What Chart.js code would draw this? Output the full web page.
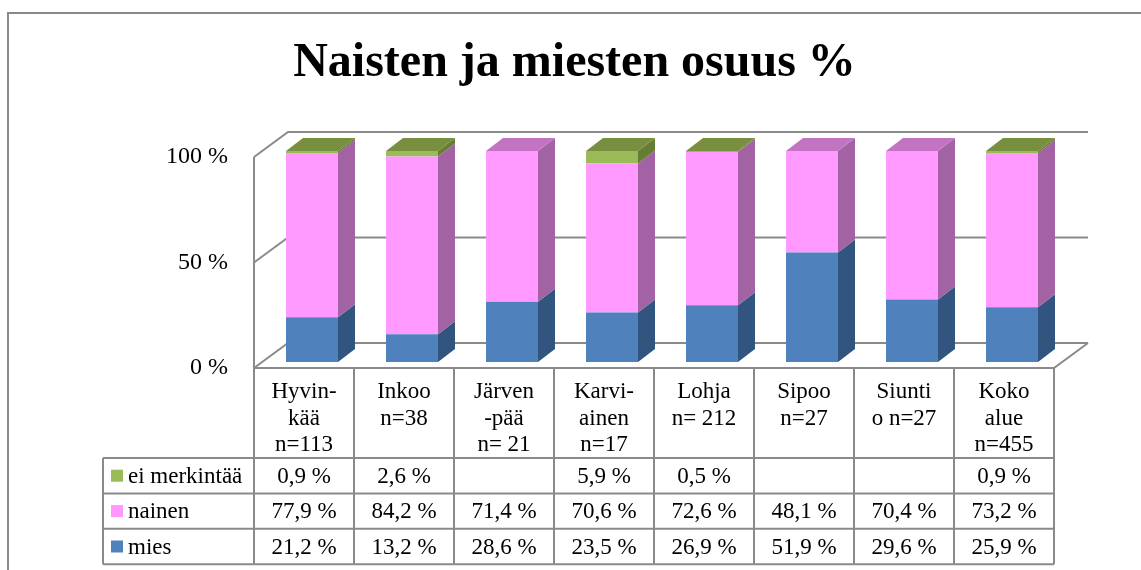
<!DOCTYPE html>
<html>
<head>
<meta charset="utf-8">
<title>Naisten ja miesten osuus %</title>
<script src="https://cdn.jsdelivr.net/npm/chart.js"></script>
<style>
  html, body { margin: 0; padding: 0; background: #fff; }
  #chart { display: block; }
</style>
</head>
<body>
<canvas id="chart" width="1141" height="570"></canvas>
<script>
// Data
const categories = [
  ["Hyvin-", "kää", "n=113"],
  ["Inkoo", "n=38"],
  ["Järven", "-pää", "n= 21"],
  ["Karvi-", "ainen", "n=17"],
  ["Lohja", "n= 212"],
  ["Sipoo", "n=27"],
  ["Siunti", "o n=27"],
  ["Koko", "alue", "n=455"]
];
const mies = [21.2, 13.2, 28.6, 23.5, 26.9, 51.9, 29.6, 25.9];
const nainen = [77.9, 84.2, 71.4, 70.6, 72.6, 48.1, 70.4, 73.2];
const eiMerkintaa = [0.9, 2.6, null, 5.9, 0.5, null, null, 0.9];
const yTicks = [0, 50, 100];

const FONT = "'Liberation Serif', 'Times New Roman', serif";
const LINE = "#8a8a8a";

// colours per dataset: front, side, top
const faces = [
  { front: "#4f81bd", side: "#31557f", top: "#3d6699" },
  { front: "#ff99ff", side: "#a262a3", top: "#c274c2" },
  { front: "#9bbb59", side: "#667d33", top: "#778f3f" }
];

// 3D geometry (pixels): bar depth and frame depth
const barDepth = { dx: 17, dy: 13 };
const frontShift = { dx: -8, dy: 6 };
const backShift = { dx: 26, dy: -19 };

function poly(ctx, pts, fill) {
  ctx.beginPath();
  ctx.moveTo(pts[0][0], pts[0][1]);
  for (let k = 1; k < pts.length; k++) ctx.lineTo(pts[k][0], pts[k][1]);
  ctx.closePath();
  ctx.fillStyle = fill;
  ctx.fill();
}

function fmt(v) {
  return v.toFixed(1).replace(".", ",") + " %";
}

// Walls, floor and gridlines
const framePlugin = {
  id: "frame3d",
  beforeDatasetsDraw(chart) {
    const { ctx, chartArea, scales } = chart;
    const y = scales.y;
    const fl = chartArea.left + frontShift.dx;
    const fr = chartArea.right + frontShift.dx;
    const bl = chartArea.left + backShift.dx;
    const br = chartArea.right + backShift.dx;
    ctx.save();
    ctx.strokeStyle = LINE;
    ctx.lineWidth = 2;
    ctx.beginPath();
    yTicks.forEach((v) => {
      const p = y.getPixelForValue(v);
      ctx.moveTo(fl, p + frontShift.dy);
      ctx.lineTo(bl, p + backShift.dy);
      ctx.lineTo(br, p + backShift.dy);
    });
    const top = y.getPixelForValue(100);
    const zero = y.getPixelForValue(0);
    ctx.moveTo(fl, top + frontShift.dy);
    ctx.lineTo(fl, zero + frontShift.dy);
    ctx.lineTo(fr, zero + frontShift.dy);
    ctx.lineTo(br, zero + backShift.dy);
    ctx.stroke();
    ctx.restore();
  },
  afterDatasetsDraw(chart) {
    const ctx = chart.ctx;
    const { dx, dy } = barDepth;
    ctx.save();
    for (let i = 0; i < categories.length; i++) {
      let topIdx = -1;
      chart.data.datasets.forEach((ds, d) => {
        const v = ds.data[i];
        if (!v) return;
        topIdx = d;
        const el = chart.getDatasetMeta(d).data[i];
        const r = el.x + el.width / 2;
        const t = Math.min(el.y, el.base);
        const b = Math.max(el.y, el.base);
        poly(ctx, [[r, b], [r, t], [r + dx, t - dy], [r + dx, b - dy]], faces[d].side);
      });
      if (topIdx >= 0) {
        const el = chart.getDatasetMeta(topIdx).data[i];
        const l = el.x - el.width / 2;
        const r = el.x + el.width / 2;
        const t = Math.min(el.y, el.base);
        poly(ctx, [[l, t], [l + dx, t - dy], [r + dx, t - dy], [r, t]], faces[topIdx].top);
      }
    }
    ctx.restore();
  }
};

// Data table below the plot + outer border
const tablePlugin = {
  id: "dataTable",
  afterDraw(chart) {
    const { ctx, chartArea, scales } = chart;
    const x = scales.x;
    const n = categories.length;
    const colW = (chartArea.right - chartArea.left) / n;
    const tableTop = scales.y.getPixelForValue(0) + frontShift.dy;
    const headH = 90;
    const rowH = 35.4;
    const legendLeft = 103;
    const colLeft = chartArea.left + frontShift.dx;
    const colRight = chartArea.right + frontShift.dx;
    const rows = [
      { label: "ei merkintää", data: eiMerkintaa, color: faces[2].front },
      { label: "nainen", data: nainen, color: faces[1].front },
      { label: "mies", data: mies, color: faces[0].front }
    ];
    const bodyTop = tableTop + headH;
    const bottom = bodyTop + rows.length * rowH;

    ctx.save();
    ctx.strokeStyle = LINE;
    ctx.lineWidth = 2;
    ctx.beginPath();
    for (let i = 0; i <= n; i++) {
      const cx = colLeft + i * colW;
      ctx.moveTo(cx, tableTop);
      ctx.lineTo(cx, bottom);
    }
    ctx.moveTo(legendLeft, bodyTop);
    ctx.lineTo(legendLeft, bottom);
    for (let r = 0; r <= rows.length; r++) {
      const ry = bodyTop + r * rowH;
      ctx.moveTo(legendLeft, ry);
      ctx.lineTo(colRight, ry);
    }
    ctx.stroke();

    ctx.fillStyle = "#000";
    ctx.font = "23px " + FONT;
    ctx.textAlign = "center";
    ctx.textBaseline = "middle";
    categories.forEach((lines, i) => {
      const cx = x.getPixelForValue(i) + frontShift.dx;
      lines.forEach((ln, k) => {
        ctx.fillText(ln, cx, tableTop + 24 + k * 26.5);
      });
    });

    rows.forEach((row, r) => {
      const cy = bodyTop + r * rowH + rowH / 2;
      ctx.fillStyle = row.color;
      ctx.fillRect(111, cy - 6, 12, 12);
      ctx.fillStyle = "#000";
      ctx.textAlign = "left";
      ctx.fillText(row.label, 128, cy + 1);
      ctx.textAlign = "center";
      row.data.forEach((v, i) => {
        if (v == null) return;
        const cx = x.getPixelForValue(i) + frontShift.dx;
        ctx.fillText(fmt(v), cx, cy + 1);
      });
    });

    // chart border
    ctx.strokeStyle = LINE;
    ctx.strokeRect(8, 13, 1200, 600);
    ctx.restore();
  }
};

new Chart(document.getElementById("chart"), {
  type: "bar",
  data: {
    labels: categories,
    datasets: [
      { label: "mies", data: mies, backgroundColor: faces[0].front },
      { label: "nainen", data: nainen, backgroundColor: faces[1].front },
      { label: "ei merkintää", data: eiMerkintaa, backgroundColor: faces[2].front }
    ]
  },
  options: {
    responsive: false,
    animation: false,
    devicePixelRatio: 1,
    layout: { padding: { left: 8, top: 0, right: 0, bottom: 208 } },
    datasets: {
      bar: { categoryPercentage: 1, barPercentage: 0.52, borderWidth: 0 }
    },
    plugins: {
      legend: { display: false },
      tooltip: { enabled: false },
      title: {
        display: true,
        text: "Naisten ja miesten osuus %",
        color: "#000",
        font: { family: FONT, size: 48, weight: "bold", lineHeight: 1.2 },
        padding: { top: 35, bottom: 58.4 }
      }
    },
    scales: {
      x: {
        stacked: true,
        display: false
      },
      y: {
        stacked: true,
        min: 0,
        max: 100,
        afterFit: (s) => { s.width = 254; },
        afterBuildTicks: (s) => { s.ticks = yTicks.map((v) => ({ value: v })); },
        ticks: {
          color: "#000",
          font: { family: FONT, size: 24 },
          padding: 34,
          labelOffset: 6,
          callback: (v) => v + " %"
        },
        grid: { display: false, drawTicks: false },
        border: { display: false }
      },
      yRight: {
        type: "linear",
        position: "right",
        afterFit: (s) => { s.width = 79; },
        ticks: { display: false },
        grid: { display: false, drawTicks: false },
        border: { display: false }
      }
    }
  },
  plugins: [framePlugin, tablePlugin]
});
</script>
</body>
</html>
